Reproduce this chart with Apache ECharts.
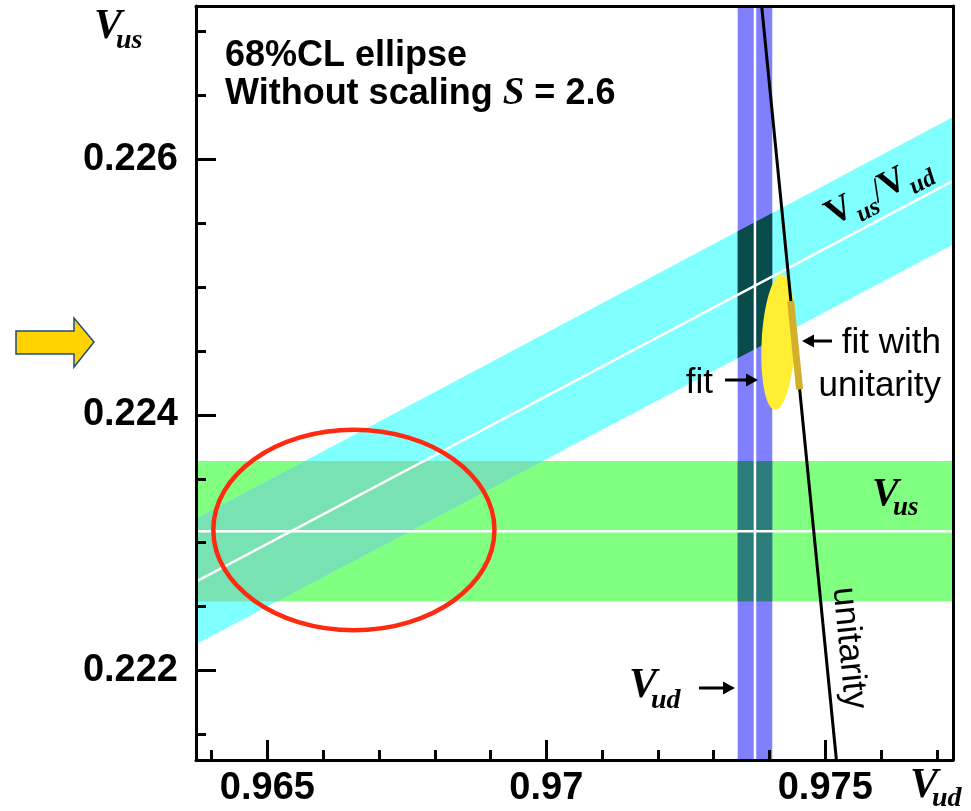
<!DOCTYPE html>
<html><head><meta charset="utf-8">
<script src="https://cdn.jsdelivr.net/npm/echarts@6/dist/echarts.min.js"></script>
<style>html,body{margin:0;padding:0;background:#fff;}#c{width:971px;height:811px;}</style>
</head><body><div id="c"></div>
<script>
// ---- axes ----
const xRange = [0.96372, 0.97729];
const yRange = [0.2213, 0.2272];
const xMajorTicks = [0.965, 0.970, 0.975];
const xMinorTicks = [0.964, 0.966, 0.967, 0.968, 0.969, 0.971, 0.972, 0.973, 0.974, 0.976, 0.977];
const yMajorTicks = [0.222, 0.224, 0.226];
const yMinorTicks = [0.2215, 0.2225, 0.2230, 0.2235, 0.2245, 0.2250, 0.2255, 0.2265, 0.2270];

// ---- measurements: [central value, half width] ----
const Vus = [0.22309, 0.00055];
const Vud = [0.97374, 0.00031];
const VusOverVud = [0.23108, 0.00051];
// 68% CL ellipses: [centre Vud, centre Vus, semi-axis Vud, semi-axis Vus]
const ellipseNoScaling = [0.96655, 0.22310, 0.00252, 0.000784];
const ellipseFit = [0.97416, 0.22457, 0.00030, 0.000530];
// unitarity line and fit-with-unitarity segment, [Vud, Vus] end points
const unitarityLine = [[0.97386, 0.2272], [0.97520, 0.2213]];
const fitWithUnitarity = [[0.97438, 0.22489], [0.97454, 0.22420]];

// ---- colours ----
const C = {
  green: '#80FF80', cyan: '#80FFFF', blue: '#8080FF',
  greenCyan: '#78E2B2', blueGreen: '#2C7E7D', blueCyan: '#074B4A',
  red: '#FF2A10', yellow: '#FFEE33', gold: '#D2B02C'
};

const [xmin, xmax] = xRange, [ymin, ymax] = yRange;
const gLo = Vus[0] - Vus[1], gHi = Vus[0] + Vus[1];
const bLo = Vud[0] - Vud[1], bHi = Vud[0] + Vud[1];
const rLo = VusOverVud[0] - VusOverVud[1], rHi = VusOverVud[0] + VusOverVud[1];

const greenPoly = [[xmin, gLo], [xmax, gLo], [xmax, gHi], [xmin, gHi]];
const bluePoly = [[bLo, ymin], [bHi, ymin], [bHi, ymax], [bLo, ymax]];
const cyanPoly = [[xmin, rLo * xmin], [xmax, rLo * xmax], [xmax, rHi * xmax], [xmin, rHi * xmin]];

function clipAxis(poly, dim, val, keepAbove) {
  const out = [];
  for (let i = 0; i < poly.length; i++) {
    const a = poly[i], b = poly[(i + 1) % poly.length];
    const ina = keepAbove ? a[dim] >= val : a[dim] <= val;
    const inb = keepAbove ? b[dim] >= val : b[dim] <= val;
    if (ina) out.push(a);
    if (ina !== inb) {
      const t = (val - a[dim]) / (b[dim] - a[dim]);
      out.push([a[0] + t * (b[0] - a[0]), a[1] + t * (b[1] - a[1])]);
    }
  }
  return out;
}
const greenCyan = clipAxis(clipAxis(cyanPoly, 1, gLo, true), 1, gHi, false);
const blueCyan = clipAxis(clipAxis(cyanPoly, 0, bLo, true), 0, bHi, false);
const blueGreen = clipAxis(clipAxis(greenPoly, 0, bLo, true), 0, bHi, false);

function polySeries(poly, color, z) {
  return {
    type: 'custom', coordinateSystem: 'cartesian2d', xAxisIndex: 0, yAxisIndex: 0,
    z: z, silent: true, animation: false, data: poly,
    renderItem: function (params, api) {
      if (params.dataIndex !== 0) return null;
      return { type: 'polygon', shape: { points: poly.map(p => api.coord(p)) }, style: { fill: color } };
    }
  };
}
function lineSeries(pts, color, width, z) {
  return {
    type: 'line', xAxisIndex: 0, yAxisIndex: 0, data: pts, symbol: 'none', z: z, silent: true,
    animation: false, lineStyle: { color: color, width: width, cap: 'butt' }
  };
}
function ellipseSeries(e, style, rot, z) {
  return {
    type: 'custom', coordinateSystem: 'cartesian2d', xAxisIndex: 0, yAxisIndex: 0,
    z: z, silent: true, animation: false, data: [[e[0], e[1]]],
    renderItem: function (params, api) {
      const c = api.coord([e[0], e[1]]);
      const s = api.size([e[2], e[3]], [e[0], e[1]]);
      return {
        type: 'ellipse', shape: { cx: c[0], cy: c[1], rx: s[0], ry: s[1] },
        rotation: rot, originX: c[0], originY: c[1], style: style
      };
    }
  };
}

const tickFont = { color: '#000', fontSize: 38, fontWeight: 'bold', fontFamily: 'Liberation Sans' };
const frameLine = { show: true, onZero: false, lineStyle: { color: '#000', width: 3 } };
function axis(kind, pos, opts) {
  const base = {
    type: 'value', position: pos, z: 10,
    min: kind === 'x' ? xmin : ymin, max: kind === 'x' ? xmax : ymax,
    axisLine: { show: false }, axisTick: { show: false }, axisLabel: { show: false },
    splitLine: { show: false }, minorTick: { show: false }
  };
  return Object.assign(base, opts);
}

const serif = 'Liberation Serif';
const sans = 'Liberation Sans';
function txt(x, y, text, size, opts) {
  return {
    type: 'text', x: x, y: y, z: 100, silent: true,
    style: Object.assign({ text: text, fontSize: size, fontFamily: sans, fill: '#000', align: 'left', verticalAlign: 'middle' }, opts || {})
  };
}
function vsym(x, y, sub, size, subSize, dx, dy) {
  return [
    txt(x, y, 'V', size, { fontFamily: serif, fontStyle: 'italic', fontWeight: 'bold' }),
    txt(x + dx, y + dy, sub, subSize, { fontFamily: serif, fontStyle: 'italic', fontWeight: 'bold' })
  ];
}
function arrow(x1, x2, y, dir) {
  // horizontal arrow; dir = 1 points right (tip at x2), -1 points left (tip at x1)
  const tip = dir > 0 ? x2 : x1;
  const base = tip - dir * 12;
  return [
    { type: 'line', z: 100, silent: true, shape: { x1: dir > 0 ? x1 : base, y1: y, x2: dir > 0 ? base : x2, y2: y }, style: { stroke: '#000', lineWidth: 3 } },
    { type: 'polygon', z: 100, silent: true, shape: { points: [[base, y - 6.5], [tip, y], [base, y + 6.5]] }, style: { fill: '#000' } }
  ];
}

const graphics = [].concat(
  [txt(225, 56, '68%CL ellipse', 36, { fontWeight: 'bold' }),
   {
     type: 'text', x: 225, y: 94, z: 100, silent: true,
     style: {
       text: '{n|Without scaling }{s|S}{n| = 2.6}', align: 'left', verticalAlign: 'middle', fill: '#000',
       rich: {
         n: { fontSize: 36, fontWeight: 'bold', fontFamily: sans, lineHeight: 40 },
         s: { fontSize: 39, fontStyle: 'italic', fontWeight: 'bold', fontFamily: serif, lineHeight: 40 }
       }
     }
   }],
  vsym(94, 27, 'us', 42, 28, 22, 14),
  vsym(910, 786, 'ud', 42, 28, 22, 13),
  vsym(872, 495, 'us', 40, 27, 21, 13),
  vsym(629, 686, 'ud', 42, 28, 22, 15),
  arrow(699, 735, 688, 1),
  arrow(725, 758, 380, 1),
  arrow(802, 832, 341, -1),
  [txt(713, 383, 'fit', 35, { align: 'right' }),
   txt(941, 343, 'fit with', 35, { align: 'right' }),
   txt(941, 386, 'unitarity', 35, { align: 'right' }),
   {
     type: 'text', x: 843, y: 587, rotation: -84.3 * Math.PI / 180, z: 100, silent: true,
     style: { text: 'unitarity', fontSize: 35, fontFamily: sans, fill: '#000', align: 'left', verticalAlign: 'middle' }
   },
   {
     type: 'text', x: 840, y: 240, rotation: 27.6 * Math.PI / 180, z: 100, silent: true,
     style: {
       text: '{a|V}{b|us}{c|/}{a|V}{b|ud}', align: 'left', verticalAlign: 'bottom', fill: '#000',
       rich: {
         a: { fontSize: 37, fontWeight: 'bold', fontFamily: serif, verticalAlign: 'bottom', lineHeight: 37, padding: [0, 0, 7, 0] },
         c: { fontSize: 35, fontFamily: serif, verticalAlign: 'bottom', lineHeight: 37, padding: [0, 0, 7, 0] },
         b: { fontSize: 25, fontWeight: 'bold', fontStyle: 'italic', fontFamily: serif, verticalAlign: 'bottom', lineHeight: 25 }
       }
     }
   },
   {
     type: 'polygon', z: 100, silent: true,
     shape: { points: [[16, 331], [74, 331], [74, 318], [94, 342], [74, 367], [74, 354], [16, 354]] },
     style: { fill: '#FFD200', stroke: '#1F4E79', lineWidth: 1.5 }
   }]
);

const chart = echarts.init(document.getElementById('c'), null, { renderer: 'canvas' });
chart.setOption({
  backgroundColor: '#fff',
  animation: false,
  grid: { left: 196, top: 6, width: 757, height: 754, show: false, containLabel: false },
  xAxis: [
    axis('x', 'bottom', {
      axisLine: frameLine,
      axisTick: { show: true, inside: true, length: 20, lineStyle: { color: '#000', width: 3 }, customValues: xMajorTicks },
      axisLabel: Object.assign({ show: true, margin: 10, customValues: xMajorTicks }, tickFont)
    }),
    axis('x', 'bottom', {
      axisTick: { show: true, inside: true, length: 10, lineStyle: { color: '#000', width: 3 }, customValues: xMinorTicks }
    }),
    axis('x', 'top', { axisLine: frameLine })
  ],
  yAxis: [
    axis('y', 'left', {
      axisLine: frameLine,
      axisTick: { show: true, inside: true, length: 20, lineStyle: { color: '#000', width: 3 }, customValues: yMajorTicks },
      axisLabel: Object.assign({ show: true, margin: 18, customValues: yMajorTicks }, tickFont)
    }),
    axis('y', 'left', {
      axisTick: { show: true, inside: true, length: 10, lineStyle: { color: '#000', width: 3 }, customValues: yMinorTicks }
    }),
    axis('y', 'right', { axisLine: frameLine })
  ],
  series: [
    polySeries(greenPoly, C.green, 1),
    polySeries(cyanPoly, C.cyan, 1),
    polySeries(bluePoly, C.blue, 1),
    polySeries(greenCyan, C.greenCyan, 2),
    polySeries(blueCyan, C.blueCyan, 2),
    polySeries(blueGreen, C.blueGreen, 2),
    lineSeries([[xmin, Vus[0]], [xmax, Vus[0]]], '#fff', 2.5, 3),
    lineSeries([[Vud[0], ymin], [Vud[0], ymax]], '#fff', 2.5, 3),
    lineSeries([[xmin, VusOverVud[0] * xmin], [xmax, VusOverVud[0] * xmax]], '#fff', 2.5, 3),
    ellipseSeries(ellipseNoScaling, { fill: null, stroke: C.red, lineWidth: 4.5 }, 0, 4),
    ellipseSeries(ellipseFit, { fill: C.yellow }, -0.05, 4),
    lineSeries(unitarityLine, '#000', 3, 5),
    lineSeries(fitWithUnitarity, C.gold, 7, 6)
  ],
  graphic: graphics
});
</script></body></html>
